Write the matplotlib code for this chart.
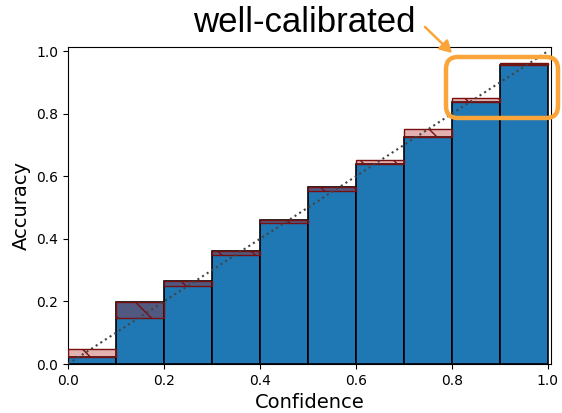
# reliability diagram with "well-calibrated" callout

import numpy as np
import matplotlib
matplotlib.use('agg')
import matplotlib.pyplot as plt
from matplotlib.patches import FancyBboxPatch, FancyArrowPatch

### Data ###
bin_lefts = [0.0, 0.1, 0.2, 0.3, 0.4, 0.5, 0.6, 0.7, 0.8, 0.9]
accuracy = [0.022, 0.198, 0.265, 0.360, 0.460, 0.565, 0.640, 0.726, 0.836, 0.955]
confidence = [0.048, 0.147, 0.250, 0.350, 0.452, 0.553, 0.652, 0.750, 0.850, 0.962]
x_ticks = [0.0, 0.2, 0.4, 0.6, 0.8, 1.0]
y_ticks = [0.0, 0.2, 0.4, 0.6, 0.8, 1.0]

plt.rcParams['font.family'] = ['DejaVu Sans']
plt.rcParams['hatch.linewidth'] = 1.0

fig = plt.figure(figsize=(5.62, 4.13), dpi=100)
ax = fig.add_axes([0.121, 0.1186, 0.859, 0.7674])

width = 0.1
acc = np.array(accuracy)
conf = np.array(confidence)

# outputs
ax.bar(bin_lefts, acc, width=width, align='edge', color='#1f77b4',
       edgecolor='black', linewidth=1.2, zorder=2)

# gap between accuracy and confidence
gap_bottom = np.minimum(acc, conf)
gap_height = np.abs(acc - conf)
ax.bar(bin_lefts, gap_height, bottom=gap_bottom, width=width, align='edge',
       color=(0.70, 0.13, 0.13, 0.35), edgecolor='#7a0f0f', linewidth=1.0,
       hatch='\\', zorder=3)

# perfect calibration
ax.plot([0, 1], [0, 1], linestyle=':', color='#444444', linewidth=1.5, zorder=4)

ax.set_xlim(0, 1.006)
ax.set_ylim(0, 1.013)
ax.set_xticks(x_ticks)
ax.set_yticks(y_ticks)
ax.tick_params(labelsize=10)
ax.set_xlabel('Confidence', fontsize=14, labelpad=4)
ax.set_ylabel('Accuracy', fontsize=14, labelpad=4)

# callout (inches, so the rounding stays round)
orange = '#f9a53a'
box = FancyBboxPatch((4.46, 2.95), 1.12, 0.61,
                     boxstyle='round,pad=0,rounding_size=0.12',
                     transform=fig.dpi_scale_trans, fill=False,
                     edgecolor=orange, linewidth=3.2, clip_on=False, zorder=6)
fig.add_artist(box)

arrow = FancyArrowPatch((4.25, 3.86), (4.52, 3.60),
                        transform=fig.dpi_scale_trans,
                        arrowstyle='-|>,head_length=7,head_width=4',
                        color=orange, linewidth=1.8, mutation_scale=1,
                        shrinkA=0, shrinkB=0, zorder=6)
fig.add_artist(arrow)

fig.text(0.541, 0.945, 'well-calibrated', fontsize=25,
         family=['Liberation Sans', 'DejaVu Sans'],
         ha='center', va='center')

plt.savefig('out.png', dpi=100)
